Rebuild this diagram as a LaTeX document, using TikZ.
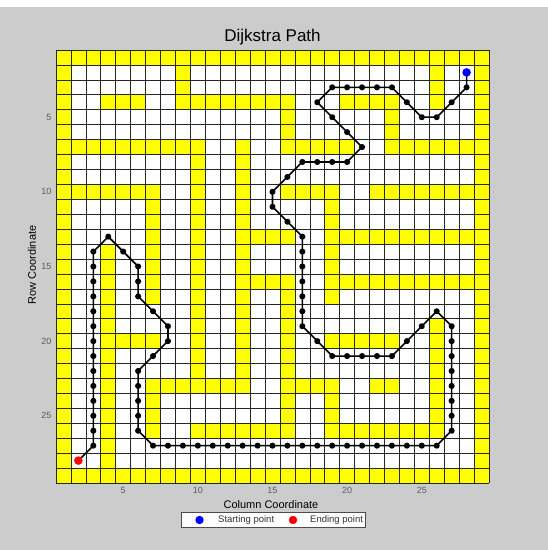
\documentclass[tikz,border=0pt]{standalone}
\usepackage{fontspec}
\setmainfont{Liberation Sans}
\definecolor{panel}{RGB}{204,204,204}
\definecolor{wall}{RGB}{255,255,0}
\definecolor{tickgray}{RGB}{90,90,90}
\tikzset{
  wallcell/.style={fill=wall},
  gridline/.style={draw=black!85, line width=0.6pt},
  route/.style={draw=black, line width=1.6pt, line join=round},
  ticklbl/.style={text=tickgray, font=\fontsize{9}{10}\selectfont, inner sep=0pt},
  axislbl/.style={text=black, font=\fontsize{11}{12}\selectfont, inner sep=0pt},
  legtxt/.style={text=black!80, font=\fontsize{9.5}{11}\selectfont, inner sep=0pt, anchor=west},
}
\begin{document}
\begin{tikzpicture}[x=1pt,y=-1pt]
\useasboundingbox (0,0) rectangle (548,550);
\fill[white] (0,0) rectangle (548,550);
\fill[panel] (0,7) rectangle (548,550);
\node[font=\fontsize{17}{20}\selectfont] (title) at (272.5,37) {Dijkstra Path};
\begin{scope}[shift={(56pt,-50pt)}, x=14.93pt, y=-14.93pt]
  \fill[white] (0,0) rectangle (29,29);
  \foreach \ca/\ra/\cb/\rb in {
    1/1/29/1, 1/29/29/29, 1/1/1/29, 29/1/29/29,
    9/2/9/4, 26/2/26/4,
    4/4/6/4, 9/4/16/4, 20/4/23/4,
    16/4/16/7, 23/4/23/7,
    1/7/10/7, 13/7/13/7, 16/7/20/7, 23/7/29/7,
    10/7/10/23, 13/7/13/23,
    1/10/7/10, 16/10/19/10, 22/10/28/10,
    7/10/7/17, 19/10/19/17,
    13/13/16/13, 19/13/29/13,
    13/16/16/16, 19/16/29/16,
    16/16/16/26, 4/14/4/29,
    4/20/7/20, 19/20/23/20,
    26/19/26/26,
    7/23/13/23, 16/23/19/23, 22/23/23/23,
    7/23/7/26, 19/23/19/26,
    10/26/16/26, 19/26/26/26}
    \fill[wallcell] ({\ca-1},{\ra-1}) rectangle (\cb,\rb);
  \foreach \k in {0,...,29} {
    \draw[gridline] (\k,0) -- (\k,29);
    \draw[gridline] (0,\k) -- (29,\k);
  }
  \foreach \k in {5,10,15,20,25} {
    \node[ticklbl, anchor=north] (bx\k) at ({\k-0.5},29.25) {\k};
    \node[ticklbl, anchor=east] (ly\k) at (-0.3,{\k-0.5}) {\k};
  }
  \begin{scope}[shift={(-0.5,-0.5)}]
    \draw[route] plot[mark=*, mark size=2.2pt, mark options={fill=black}] coordinates {
      (28,2) (28,3) (27,4) (26,5) (25,5) (24,4) (23,3) (22,3) (21,3) (20,3) (19,3)
      (18,4) (19,5) (20,6) (21,7) (20,8) (19,8) (18,8) (17,8) (16,9) (15,10) (15,11)
      (16,12) (17,13) (17,14) (17,15) (17,16) (17,17) (17,18) (17,19) (18,20) (19,21)
      (20,21) (21,21) (22,21) (23,21) (24,20) (25,19) (26,18) (27,19) (27,20) (27,21)
      (27,22) (27,23) (27,24) (27,25) (27,26) (26,27) (25,27) (24,27) (23,27) (22,27)
      (21,27) (20,27) (19,27) (18,27) (17,27) (16,27) (15,27) (14,27) (13,27) (12,27)
      (11,27) (10,27) (9,27) (8,27) (7,27) (6,26) (6,25) (6,24) (6,23) (6,22) (7,21)
      (8,20) (8,19) (7,18) (6,17) (6,16) (6,15) (5,14) (4,13) (3,14) (3,15) (3,16)
      (3,17) (3,18) (3,19) (3,20) (3,21) (3,22) (3,23) (3,24) (3,25) (3,26) (3,27) (2,28)};
    \fill[blue] (28,2) circle[radius=4.3pt];
    \fill[red] (2,28) circle[radius=4.3pt];
  \end{scope}
\end{scope}
\node[axislbl] (xlab) at (271,504.5) {Column Coordinate};
\node[axislbl, rotate=90] (ylab) at (32,265) {Row Coordinate};
\node[draw=black!70, fill=white, line width=0.6pt, minimum width=184pt, minimum height=15pt, inner sep=0pt] (legend) at (273,519.5) {};
\fill[blue] (199.5,520) circle[radius=4.2pt];
\node[legtxt] (ls) at (218,520) {Starting point};
\fill[red] (293,520) circle[radius=4.2pt];
\node[legtxt] (le) at (310,520) {Ending point};
\end{tikzpicture}
\end{document}
